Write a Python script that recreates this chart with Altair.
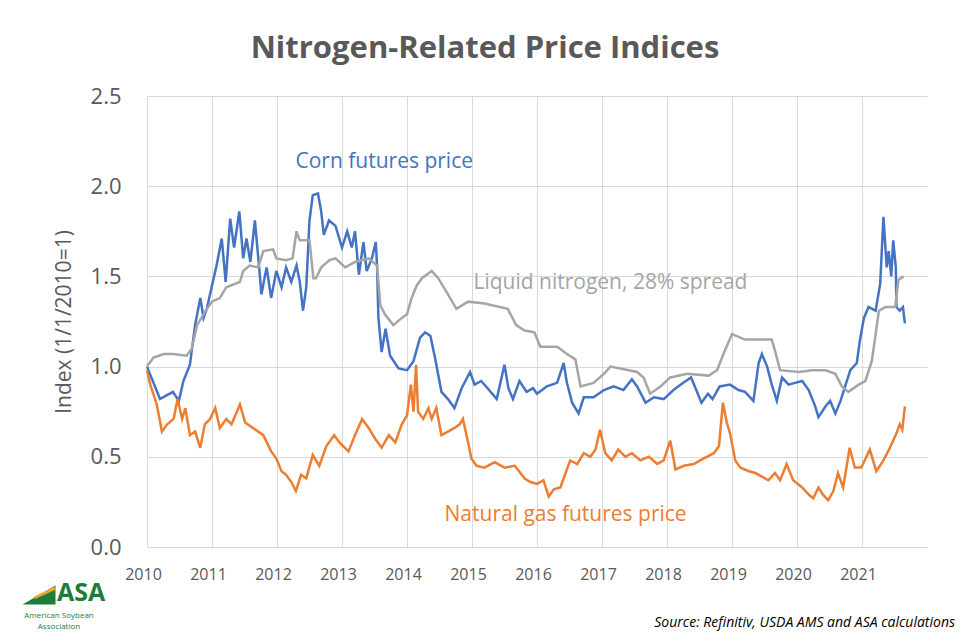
import altair as alt
import pandas as pd

# ---- data (year as decimal, index value) ----
corn_t = [2010.0, 2010.2, 2010.3, 2010.4, 2010.49, 2010.56, 2010.66, 2010.74, 2010.82, 2010.87, 2010.92,
          2011.0, 2011.07, 2011.15, 2011.21, 2011.28, 2011.34, 2011.42, 2011.48, 2011.53, 2011.59, 2011.66,
          2011.73, 2011.76, 2011.84, 2011.91, 2011.99, 2012.07, 2012.14, 2012.22, 2012.3, 2012.35, 2012.4,
          2012.45, 2012.5, 2012.55, 2012.63, 2012.68, 2012.72, 2012.8, 2012.9, 2013.0, 2013.08, 2013.15,
          2013.2, 2013.26, 2013.33, 2013.38, 2013.46, 2013.52, 2013.54, 2013.56, 2013.61, 2013.67, 2013.74,
          2013.87, 2014.0, 2014.1, 2014.2, 2014.28, 2014.36, 2014.43, 2014.53, 2014.63, 2014.73, 2014.84,
          2014.97, 2015.04, 2015.14, 2015.24, 2015.38, 2015.5, 2015.56, 2015.63, 2015.73, 2015.84, 2015.94,
          2016.0, 2016.15, 2016.31, 2016.41, 2016.46, 2016.54, 2016.64, 2016.72, 2016.87, 2017.03, 2017.18,
          2017.33, 2017.46, 2017.54, 2017.67, 2017.8, 2017.95, 2018.1, 2018.25, 2018.37, 2018.45, 2018.53,
          2018.63, 2018.7, 2018.81, 2018.97, 2019.1, 2019.2, 2019.33, 2019.41, 2019.46, 2019.54, 2019.62,
          2019.69, 2019.77, 2019.87, 2019.97, 2020.08, 2020.18, 2020.28, 2020.33, 2020.44, 2020.51, 2020.59,
          2020.67, 2020.74, 2020.82, 2020.92, 2020.97, 2021.03, 2021.1, 2021.21, 2021.28, 2021.33, 2021.38,
          2021.41, 2021.45, 2021.48, 2021.52, 2021.53, 2021.58, 2021.63, 2021.66]
corn_v = [1.0, 0.82, 0.84, 0.86, 0.81, 0.92, 1.01, 1.23, 1.38, 1.27, 1.32,
          1.45, 1.56, 1.71, 1.47, 1.82, 1.66, 1.86, 1.6, 1.71, 1.58, 1.81,
          1.53, 1.4, 1.55, 1.38, 1.53, 1.44, 1.55, 1.47, 1.56, 1.47, 1.31,
          1.44, 1.81, 1.95, 1.96, 1.86, 1.73, 1.81, 1.78, 1.66, 1.75, 1.66,
          1.75, 1.51, 1.69, 1.53, 1.6, 1.69, 1.55, 1.27, 1.08, 1.21, 1.06,
          0.99, 0.98, 1.03, 1.16, 1.19, 1.17, 1.05, 0.86, 0.82, 0.77, 0.88,
          0.97, 0.9, 0.92, 0.88, 0.82, 1.01, 0.88, 0.82, 0.92, 0.86, 0.88,
          0.85, 0.89, 0.91, 1.02, 0.91, 0.8, 0.74, 0.83, 0.83, 0.87, 0.89,
          0.87, 0.93, 0.89, 0.8, 0.83, 0.82, 0.87, 0.91, 0.94, 0.87, 0.8,
          0.85, 0.82, 0.89, 0.9, 0.87, 0.86, 0.81, 1.02, 1.07, 1.0, 0.89,
          0.81, 0.94, 0.9, 0.91, 0.92, 0.87, 0.78, 0.72, 0.78, 0.81, 0.74,
          0.81, 0.89, 0.98, 1.02, 1.15, 1.27, 1.33, 1.31, 1.46, 1.83, 1.55,
          1.64, 1.5, 1.7, 1.55, 1.33, 1.31, 1.33, 1.24]

nitro_t = [2010.0, 2010.1, 2010.26, 2010.41, 2010.61, 2010.69, 2010.77, 2010.92, 2011.0, 2011.12, 2011.22,
           2011.43, 2011.48, 2011.58, 2011.71, 2011.79, 2011.94, 2011.99, 2012.14, 2012.24, 2012.3, 2012.35,
           2012.5, 2012.56, 2012.6, 2012.68, 2012.81, 2012.9, 2013.05, 2013.2, 2013.41, 2013.54, 2013.59,
           2013.66, 2013.79, 2013.92, 2014.0, 2014.07, 2014.15, 2014.23, 2014.38, 2014.48, 2014.63, 2014.76,
           2014.94, 2015.19, 2015.55, 2015.68, 2015.81, 2015.96, 2016.05, 2016.31, 2016.46, 2016.59, 2016.67,
           2016.87, 2017.03, 2017.13, 2017.28, 2017.54, 2017.64, 2017.74, 2017.9, 2018.05, 2018.31, 2018.64,
           2018.77, 2018.88, 2019.0, 2019.2, 2019.41, 2019.61, 2019.66, 2019.74, 2020.03, 2020.23, 2020.44,
           2020.59, 2020.69, 2020.79, 2020.95, 2021.05, 2021.15, 2021.21, 2021.26, 2021.36, 2021.51, 2021.56,
           2021.64]
nitro_v = [1.0, 1.05, 1.07, 1.07, 1.06, 1.1, 1.23, 1.32, 1.36, 1.38, 1.44,
           1.47, 1.53, 1.56, 1.55, 1.64, 1.65, 1.6, 1.59, 1.6, 1.75, 1.7,
           1.7, 1.49, 1.49, 1.55, 1.59, 1.6, 1.55, 1.58, 1.6, 1.56, 1.34,
           1.29, 1.23, 1.27, 1.29, 1.38, 1.45, 1.49, 1.53, 1.49, 1.4, 1.32,
           1.36, 1.35, 1.32, 1.23, 1.2, 1.19, 1.11, 1.11, 1.07, 1.04, 0.89,
           0.91, 0.96, 1.0, 0.99, 0.97, 0.94, 0.85, 0.89, 0.94, 0.96, 0.95,
           0.98, 1.08, 1.18, 1.15, 1.15, 1.15, 1.09, 0.98, 0.97, 0.98, 0.98,
           0.96, 0.89, 0.86, 0.9, 0.92, 1.03, 1.18, 1.31, 1.33, 1.33, 1.48,
           1.5]

gas_t = [2010.0, 2010.05, 2010.15, 2010.23, 2010.31, 2010.41, 2010.47, 2010.54, 2010.59, 2010.66, 2010.74,
         2010.82, 2010.89, 2010.97, 2011.05, 2011.12, 2011.22, 2011.3, 2011.43, 2011.51, 2011.63, 2011.79,
         2011.91, 2011.99, 2012.07, 2012.14, 2012.22, 2012.29, 2012.37, 2012.45, 2012.55, 2012.65, 2012.76,
         2012.88, 2012.96, 2013.1, 2013.2, 2013.31, 2013.41, 2013.51, 2013.61, 2013.72, 2013.82, 2013.92,
         2014.0, 2014.06, 2014.1, 2014.14, 2014.17, 2014.25, 2014.33, 2014.38, 2014.45, 2014.53, 2014.63,
         2014.73, 2014.81, 2014.86, 2014.94, 2014.99, 2015.07, 2015.19, 2015.35, 2015.5, 2015.66, 2015.81,
         2015.9, 2016.0, 2016.1, 2016.18, 2016.26, 2016.36, 2016.44, 2016.51, 2016.62, 2016.72, 2016.82,
         2016.9, 2016.97, 2017.05, 2017.15, 2017.25, 2017.36, 2017.46, 2017.59, 2017.72, 2017.85, 2017.95,
         2018.05, 2018.13, 2018.26, 2018.41, 2018.56, 2018.72, 2018.8, 2018.86, 2018.92, 2018.97, 2019.05,
         2019.13, 2019.26, 2019.36, 2019.46, 2019.56, 2019.66, 2019.74, 2019.84, 2019.94, 2020.08, 2020.18,
         2020.25, 2020.33, 2020.4, 2020.48, 2020.56, 2020.63, 2020.71, 2020.81, 2020.89, 2020.99, 2021.12,
         2021.22, 2021.33, 2021.43, 2021.53, 2021.58, 2021.62, 2021.66]
gas_v = [0.98, 0.9, 0.79, 0.64, 0.68, 0.71, 0.82, 0.71, 0.77, 0.62, 0.64,
         0.55, 0.68, 0.71, 0.77, 0.66, 0.71, 0.68, 0.79, 0.69, 0.66, 0.62,
         0.53, 0.49, 0.42, 0.4, 0.36, 0.31, 0.4, 0.38, 0.51, 0.45, 0.56,
         0.62, 0.58, 0.53, 0.62, 0.71, 0.66, 0.6, 0.55, 0.62, 0.58, 0.68,
         0.73, 0.9, 0.75, 1.01, 0.75, 0.71, 0.77, 0.71, 0.77, 0.62, 0.64,
         0.66, 0.68, 0.71, 0.58, 0.49, 0.45, 0.44, 0.47, 0.44, 0.45, 0.38,
         0.36, 0.35, 0.37, 0.28, 0.32, 0.33, 0.41, 0.48, 0.46, 0.52, 0.5,
         0.54, 0.65, 0.52, 0.48, 0.54, 0.5, 0.52, 0.48, 0.5, 0.46, 0.48,
         0.59, 0.43, 0.45, 0.46, 0.49, 0.52, 0.56, 0.8, 0.69, 0.63, 0.48,
         0.44, 0.42, 0.41, 0.39, 0.37, 0.41, 0.37, 0.46, 0.37, 0.33, 0.29,
         0.27, 0.33, 0.29, 0.26, 0.31, 0.41, 0.33, 0.55, 0.44, 0.44, 0.54,
         0.42, 0.48, 0.55, 0.63, 0.68, 0.65, 0.78]

series_names = ["Corn futures price", "Liquid nitrogen, 28% spread", "Natural gas futures price"]
series_colors = ["#4472C4", "#A5A5A5", "#ED7D31"]
year_ticks = list(range(2010, 2022))
y_ticks = [0.0, 0.5, 1.0, 1.5, 2.0, 2.5]

rows = []
for name, ts, vs in zip(series_names, [corn_t, nitro_t, gas_t], [corn_v, nitro_v, gas_v]):
    for i, (t, v) in enumerate(zip(ts, vs)):
        rows.append({"series": name, "t": t, "v": v, "order": i})
df = pd.DataFrame(rows)

labels = pd.DataFrame({
    "text": series_names,
    "t": [2013.65, 2017.13, 2016.44],
    "v": [2.134, 1.463, 0.177],
    "series": series_names,
})

FONT = "Open Sans"
GREY_TXT = "#595959"
GREEN = "#1E7B3A"
ORANGE_LOGO = "#F5A623"

x_enc = alt.X("t:Q", scale=alt.Scale(domain=[2010, 2022], nice=False, zero=False),
              axis=alt.Axis(values=year_ticks, format="d", title=None, grid=True, ticks=False,
                            domain=True, domainColor="#D9D9D9", labelPadding=19, labelFlush=False,
                            labelOffset=-4, labelFontSize=16))
y_enc = alt.Y("v:Q", scale=alt.Scale(domain=[0, 2.5], nice=False),
              axis=alt.Axis(values=y_ticks, format=".1f", title="Index (1/1/2010=1)", grid=True,
                            ticks=False, domain=False, labelPadding=26, titlePadding=16,
                            labelFontSize=22, titleFontSize=21))
color_enc = alt.Color("series:N", scale=alt.Scale(domain=series_names, range=series_colors), legend=None)

lines = alt.Chart(df).mark_line(strokeWidth=2.5).encode(
    x=x_enc, y=y_enc, color=color_enc, order="order:Q", detail="series:N")

ann = alt.Chart(labels).mark_text(fontSize=21, font=FONT).encode(
    x="t:Q", y="v:Q", text="text:N", color=color_enc)

one = pd.DataFrame({"k": [0]})


def fixed_text(s, x, y, **kw):
    return alt.Chart(pd.DataFrame({"s": [s]})).mark_text(font=FONT, **kw).encode(
        x=alt.value(x), y=alt.value(y), text="s:N")


source = fixed_text("Source: Refinitiv, USDA AMS and ASA calculations", 808, 527,
                    align="right", baseline="middle", fontSize=14, fontStyle="italic", color="#000000")

# logo: green wedge with an orange swoosh, then "ASA" and the association name
logo_flag = alt.Chart(one).mark_point(
    shape="M -1 0.58 L 1 -0.58 L 1 0.58 Z", filled=True, size=1089, opacity=1, color=GREEN
).encode(x=alt.value(-108), y=alt.value(499))
logo_swoosh = alt.Chart(one).mark_point(
    shape="M -0.35 0.12 L 0.95 -0.5 L 1 -0.32 L -0.25 0.24 Z", filled=True, size=1089, opacity=1,
    color=ORANGE_LOGO
).encode(x=alt.value(-108), y=alt.value(499))
logo_big = fixed_text("ASA", -90, 505, align="left", baseline="alphabetic", fontSize=25,
                      fontWeight="bold", color=GREEN)
logo_small1 = fixed_text("American Soybean", -88, 519.5, align="center", baseline="middle",
                         fontSize=8, color=GREEN)
logo_small2 = fixed_text("Association", -88, 530.5, align="center", baseline="middle",
                         fontSize=8, color=GREEN)

chart = alt.layer(lines, ann, source, logo_flag, logo_swoosh, logo_big, logo_small1, logo_small2).properties(
    width=780, height=451,
    title=alt.TitleParams("Nitrogen-Related Price Indices", fontSize=31, fontWeight="bold",
                          font=FONT, color=GREY_TXT, anchor="middle", dx=-52, offset=20),
    padding={"left": 139, "top": 88, "right": 29, "bottom": 84},
    autosize=alt.AutoSizeParams(type="none"),
).configure_axis(
    labelFont=FONT, titleFont=FONT,
    labelColor=GREY_TXT, titleColor=GREY_TXT, titleFontWeight="normal",
    gridColor="#D9D9D9", gridWidth=1,
).configure_view(stroke=None)

chart.save("out.html", embed_options={"renderer": "svg", "actions": False})
